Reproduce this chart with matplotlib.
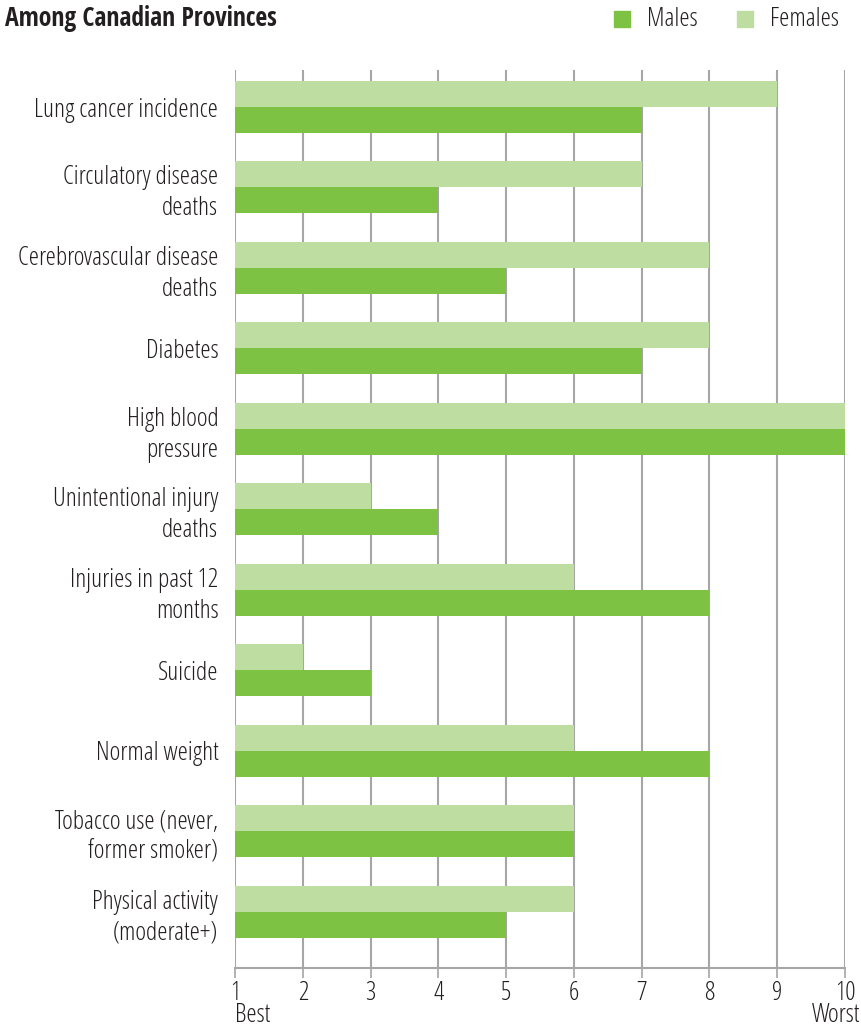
import matplotlib.pyplot as plt
import numpy as np

categories = ['Lung cancer incidence', 'Circulatory disease\ndeaths',
              'Cerebrovascular disease\ndeaths', 'Diabetes', 'High blood\npressure',
              'Unintentional injury\ndeaths', 'Injuries in past 12\nmonths', 'Suicide',
              'Normal weight', 'Tobacco use (never,\nformer smoker)',
              'Physical activity\n(moderate+)']
females = [9, 7, 8, 8, 10, 3, 6, 2, 6, 6, 6]
males = [7, 4, 5, 7, 10, 4, 8, 3, 8, 6, 5]
ticks = list(range(1, 11))

male_color = '#7DC242'
female_color = '#BEDDA0'
grid_color = '#A6A6A6'
text_color = '#231F20'

plt.rcParams['font.family'] = ['Open Sans', 'DejaVu Sans']
plt.rcParams['font.stretch'] = 'condensed'
plt.rcParams['font.weight'] = 300
fs = 18.5

fig = plt.figure(figsize=(8.62, 10.28), dpi=100)
ax = fig.add_axes([235 / 862, 60 / 1028, 610 / 862, 898 / 1028])

y = np.arange(len(categories))
h = 0.323
# bars grow from rank 1
ax.barh(y - h / 2, np.array(females) - 1, left=1, height=h, color=female_color, zorder=2)
ax.barh(y + h / 2, np.array(males) - 1, left=1, height=h, color=male_color, zorder=2)

for t in ticks:
    ax.axvline(t, color=grid_color, lw=1.5, zorder=1)

ax.set_xlim(1, 10)
ax.set_ylim(10.7, -0.46)
ax.set_xticks(ticks)
ax.set_xticklabels([str(t) for t in ticks], fontsize=fs, color=text_color)
ax.tick_params(axis='x', length=7, width=1.2, color=grid_color, pad=2)
ax.set_yticks(y)
ax.set_yticklabels(categories, fontsize=fs, color=text_color, linespacing=1.3)
ax.tick_params(axis='y', length=0, pad=12)
for s in ['top', 'right', 'left']:
    ax.spines[s].set_visible(False)
ax.spines['bottom'].set_color(grid_color)
ax.spines['bottom'].set_linewidth(1.5)

fig.text(235 / 862, 1 - 1016 / 1028, 'Best', fontsize=fs, color=text_color, va='center', ha='left')
fig.text(862 / 862 - 0.002, 1 - 1016 / 1028, 'Worst', fontsize=fs, color=text_color,
         va='center', ha='right')

fig.text(5 / 862, 1 - 19 / 1028, 'Among Canadian Provinces', fontsize=fs,
         family=['Open Sans Condensed', 'DejaVu Sans'], fontweight='bold',
         color=text_color, va='center', ha='left')

# legend squares
for x0, col, lab in [(614, male_color, 'Males'), (737, female_color, 'Females')]:
    fig.patches.append(plt.Rectangle((x0 / 862, 1 - 27 / 1028), 16 / 862, 16 / 1028,
                                     transform=fig.transFigure, color=col, figure=fig))
    fig.text((x0 + 33) / 862, 1 - 19 / 1028, lab, fontsize=fs, color=text_color,
             va='center', ha='left')

fig.savefig('out.png', dpi=100)
